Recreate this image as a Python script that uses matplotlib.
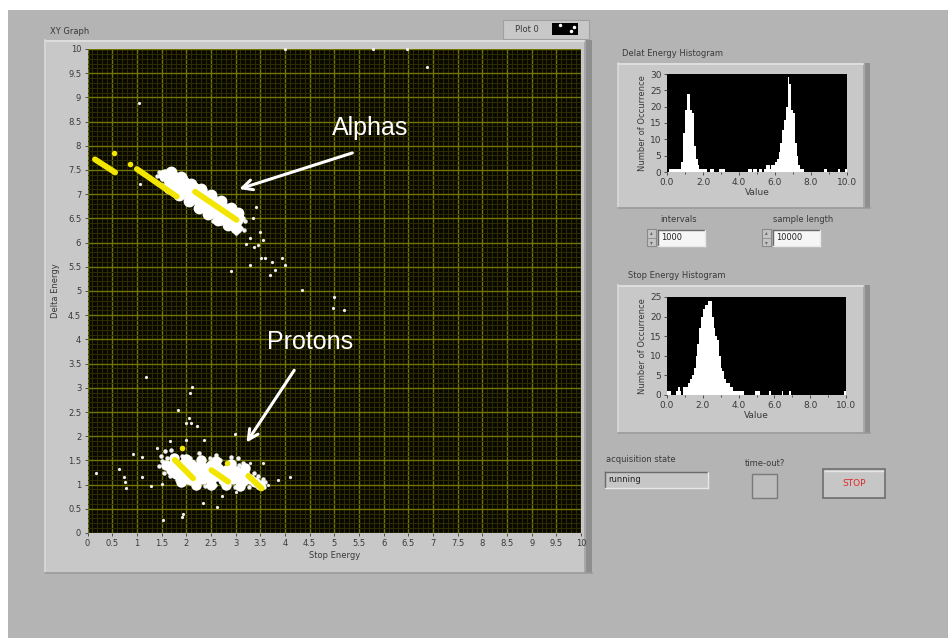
import matplotlib.pyplot as plt
from matplotlib.patches import Rectangle
from matplotlib.ticker import MultipleLocator

# --- XY graph data (Stop Energy, Delta Energy) ---
alpha_core_x = [1.55, 1.65, 1.65, 1.75, 1.75, 1.80, 1.85, 1.85, 1.90, 1.95, 1.95, 2.00, 2.00, 2.05, 2.05,
                2.10, 2.10, 2.15, 2.20, 2.20, 2.25, 2.30, 2.30, 2.35, 2.40, 2.40, 2.45, 2.50, 2.50, 2.55,
                2.60, 2.60, 2.65, 2.70, 2.70, 2.75, 2.80, 2.80, 2.85, 2.90, 2.95, 3.00, 3.05, 2.15,
                1.70, 1.90, 2.10, 2.30, 2.50, 2.70, 2.90, 3.05,
                1.65, 1.85, 2.05, 2.25, 2.45, 2.65, 2.85, 3.00]
alpha_core_y = [7.40, 7.38, 7.30, 7.35, 7.25, 7.15, 7.30, 7.20, 7.10, 7.25, 7.15, 7.05, 7.20, 7.10, 6.98,
                7.15, 7.02, 6.92, 7.08, 6.96, 6.86, 7.02, 6.90, 6.80, 6.95, 6.84, 6.74, 6.90, 6.78, 6.68,
                6.82, 6.72, 6.62, 6.76, 6.65, 6.56, 6.68, 6.58, 6.50, 6.60, 6.52, 6.45, 6.50, 7.12,
                7.45, 7.35, 7.22, 7.10, 6.98, 6.86, 6.72, 6.62,
                7.12, 6.98, 6.85, 6.72, 6.60, 6.47, 6.36, 6.30]

alpha_edge_x = [1.45, 1.50, 1.58, 1.62, 1.70, 1.72, 1.78, 1.82, 1.88, 1.92, 1.98, 2.02, 2.08, 2.12, 2.18,
                2.22, 2.28, 2.32, 2.38, 2.42, 2.48, 2.52, 2.58, 2.62, 2.68, 2.72, 2.78, 2.82, 2.88, 2.92,
                2.98, 3.02, 3.08, 3.10, 3.15, 3.12, 2.95, 2.85, 1.40, 1.52, 1.35, 3.20, 3.00, 3.18, 2.70,
                2.55]
alpha_edge_y = [7.45, 7.32, 7.48, 7.22, 7.45, 7.12, 7.42, 7.05, 7.38, 6.98, 7.35, 6.90, 7.28, 6.85, 7.22,
                6.78, 7.15, 6.72, 7.08, 6.65, 7.02, 6.58, 6.95, 6.52, 6.88, 6.48, 6.80, 6.42, 6.72, 6.40,
                6.65, 6.35, 6.58, 6.42, 6.50, 6.30, 6.28, 6.32, 7.38, 7.18, 7.28, 6.45, 6.20, 6.25, 6.40,
                6.45]

proton_core_x = [1.60, 1.70, 1.75, 1.80, 1.85, 1.90, 1.95, 1.95, 2.00, 2.05, 2.10, 2.10, 2.15, 2.20, 2.25,
                 2.30, 2.35, 2.40, 2.45, 2.50, 2.50, 2.55, 2.60, 2.65, 2.70, 2.75, 2.80, 2.85, 2.90, 2.95,
                 3.00, 3.05, 3.10, 3.15, 3.20, 3.30, 3.40, 3.50,
                 1.75, 2.00, 2.30, 2.60, 2.90, 3.20, 1.90, 2.20, 2.50, 2.80, 3.10]
proton_core_y = [1.40, 1.30, 1.45, 1.22, 1.38, 1.28, 1.45, 1.15, 1.35, 1.22, 1.42, 1.10, 1.30, 1.18, 1.38,
                 1.25, 1.12, 1.35, 1.22, 1.40, 1.10, 1.28, 1.18, 1.35, 1.22, 1.10, 1.30, 1.18, 1.25, 1.12,
                 1.28, 1.15, 1.22, 1.08, 1.20, 1.12, 1.05, 1.00,
                 1.55, 1.52, 1.50, 1.48, 1.42, 1.35, 1.05, 1.00, 1.00, 1.00, 0.98]

proton_edge_x = [1.50, 1.55, 1.62, 1.68, 1.78, 1.82, 1.92, 2.02, 2.08, 2.18, 2.28, 2.38, 2.48, 2.58, 2.68,
                 2.78, 2.88, 2.98, 3.08, 3.12, 3.22, 3.28, 3.38, 3.45, 3.55, 3.60, 3.58, 3.05, 3.15, 1.45,
                 1.48, 1.58, 1.70, 2.25, 2.60, 2.90]
proton_edge_y = [1.48, 1.25, 1.55, 1.18, 1.58, 1.10, 1.60, 1.05, 1.55, 1.02, 1.52, 0.98, 1.55, 1.00, 1.50,
                 0.98, 1.45, 0.95, 1.40, 0.92, 1.35, 0.95, 1.25, 1.18, 1.12, 1.05, 0.95, 1.55, 1.45, 1.38,
                 1.60, 1.70, 1.72, 1.65, 1.62, 1.58]

stray_x = [1.06, 3.42, 3.36, 3.49, 3.22, 3.29, 3.52, 3.60, 3.73, 3.94, 4.00, 3.80, 3.69, 3.38, 3.55,
           2.90, 4.34, 5.00, 4.97, 5.20, 1.04, 6.88, 4.00, 5.78, 6.47, 3.30, 3.45,
           1.18, 2.11, 2.07, 1.84, 2.06, 2.00, 2.10, 2.22, 2.99, 1.67, 2.36, 1.99, 0.17, 0.64,
           0.74, 0.76, 0.78, 0.93, 1.10, 1.10, 1.28, 1.51, 3.86, 4.11, 3.65, 2.34, 2.63, 2.72,
           1.91, 1.93, 1.53, 3.08, 3.01, 1.40, 3.30, 3.55]
stray_y = [7.22, 6.74, 6.50, 6.22, 5.98, 5.54, 5.68, 5.68, 5.60, 5.68, 5.54, 5.43, 5.33, 5.90, 6.05,
           5.41, 5.02, 4.88, 4.65, 4.60, 8.88, 9.62, 10.0, 10.0, 10.0, 6.10, 5.95,
           3.22, 3.02, 2.90, 2.54, 2.37, 2.27, 2.27, 2.21, 2.05, 1.91, 1.92, 1.92, 1.25, 1.32,
           1.15, 1.06, 0.92, 1.63, 1.56, 1.16, 0.97, 1.02, 1.09, 1.15, 1.00, 0.61, 0.54, 0.77,
           0.34, 0.39, 0.27, 0.94, 0.84, 1.75, 1.45, 1.45]

# yellow plot: short straight runs (start x, end x, start y, end y) and single points
yellow_runs = [
    (0.15, 0.56, 7.72, 7.45),
    (1.00, 1.81, 7.52, 6.95),
    (2.18, 3.02, 7.05, 6.47),
    (1.77, 2.14, 1.51, 1.13),
    (2.51, 2.85, 1.30, 1.06),
    (3.26, 3.53, 1.18, 0.92),
]
yellow_dot_x = [0.54, 0.86, 1.91, 2.82]
yellow_dot_y = [7.85, 7.62, 1.75, 1.45]

xy_ticks = [i * 0.5 for i in range(21)]
xy_tick_labels = ['0', '0.5', '1', '1.5', '2', '2.5', '3', '3.5', '4', '4.5', '5',
                  '5.5', '6', '6.5', '7', '7.5', '8', '8.5', '9', '9.5', '10']

# --- histograms, bins of 0.1 from 0 to 10 ---
bin_left = [i / 10 for i in range(100)]
delta_counts = [
    0, 1, 1, 1, 1, 1, 1, 1, 3, 12,
    19, 24, 24, 19, 18, 8, 4, 2, 1, 1,
    1, 1, 0, 0, 1, 1, 0, 0, 0, 1,
    1, 1, 0, 0, 0, 0, 0, 0, 0, 0,
    0, 0, 0, 0, 0, 1, 1, 0, 1, 1,
    0, 1, 1, 0, 1, 2, 2, 1, 2, 2,
    3, 4, 6, 9, 13, 16, 20, 29, 27, 19,
    18, 9, 5, 2, 1, 1, 0, 0, 0, 0,
    0, 0, 0, 0, 0, 0, 0, 1, 1, 0,
    0, 0, 0, 0, 0, 1, 0, 0, 0, 1,
]
stop_counts = [
    1, 1, 0, 0, 0, 1, 2, 1, 0, 2,
    2, 2, 3, 4, 5, 7, 10, 13, 17, 20,
    22, 23, 23, 24, 24, 20, 17, 15, 14, 10,
    7, 6, 4, 3, 3, 2, 2, 1, 1, 1,
    1, 1, 1, 0, 0, 0, 0, 0, 0, 1,
    1, 1, 0, 0, 0, 0, 0, 1, 0, 0,
    0, 0, 0, 0, 1, 0, 0, 0, 1, 0,
    0, 0, 0, 0, 0, 0, 0, 0, 0, 0,
    0, 0, 0, 0, 0, 0, 0, 0, 0, 0,
    0, 0, 0, 0, 0, 0, 0, 0, 0, 1,
]
hist_x_ticks = [0, 2, 4, 6, 8, 10]
hist_x_labels = ['0.0', '2.0', '4.0', '6.0', '8.0', '10.0']

W, H = 948, 638
PANEL = '#b4b4b4'
FACE = '#c8c8c8'
TXT = '#3a3a3a'


def rect(x0, y0, x1, y1):
    """Pixel box (top-left origin) -> figure fraction rect."""
    return [x0 / W, 1 - y1 / H, (x1 - x0) / W, (y1 - y0) / H]


def bevel(bg, x0, y0, x1, y1, edge=7):
    # raised LabVIEW style frame with dark right edge
    bg.add_patch(Rectangle((x0, y0), x1 - x0, y1 - y0, fc=FACE, ec='none'))
    bg.add_patch(Rectangle((x1 - edge, y0), edge, y1 - y0, fc='#8e8e8e', ec='none'))
    bg.add_patch(Rectangle((x1 - edge, y0), 2, y1 - y0, fc='#a8a8a8', ec='none'))
    bg.plot([x0, x1 - edge], [y0 + 0.5, y0 + 0.5], color='#e2e2e2', lw=1.2)
    bg.plot([x0 + 0.5, x0 + 0.5], [y0, y1], color='#dadada', lw=1.2)
    bg.plot([x0, x1], [y1 - 0.5, y1 - 0.5], color='#9a9a9a', lw=1.2)


def inset_box(bg, x0, y0, x1, y1, fc, text=None, color='#222222'):
    bg.add_patch(Rectangle((x0, y0), x1 - x0, y1 - y0, fc=fc, ec='none'))
    bg.plot([x0, x1], [y0, y0], color='#6a6a6a', lw=1)
    bg.plot([x0, x0], [y0, y1], color='#6a6a6a', lw=1)
    bg.plot([x0, x1], [y1, y1], color='#e8e8e8', lw=1)
    bg.plot([x1, x1], [y0, y1], color='#e8e8e8', lw=1)
    if text:
        bg.text(x0 + 3, (y0 + y1) / 2, text, fontsize=6, color=color, va='center', ha='left')


def spinner(bg, x0, y0, x1, y1):
    bg.add_patch(Rectangle((x0, y0), x1 - x0, y1 - y0, fc='#c4c4c4', ec='#8a8a8a', lw=0.8))
    ym = (y0 + y1) / 2
    bg.plot([x0 + 1, x1 - 1], [ym, ym], color='#8a8a8a', lw=0.6)
    bg.text((x0 + x1) / 2, y0 + 3.5, '\u25b4', fontsize=4, color='#666666', ha='center', va='center')
    bg.text((x0 + x1) / 2, y1 - 3.5, '\u25be', fontsize=4, color='#666666', ha='center', va='center')


def style_hist(ax, counts, ymax, ystep):
    ax.set_facecolor('black')
    ax.bar(bin_left, counts, width=0.1, align='edge', color='white', linewidth=0)
    ax.set_xlim(0, 10)
    ax.set_ylim(0, ymax)
    ax.set_xticks(hist_x_ticks)
    ax.set_xticklabels(hist_x_labels)
    ax.xaxis.set_minor_locator(MultipleLocator(1))
    ax.yaxis.set_major_locator(MultipleLocator(ystep))
    ax.tick_params(labelsize=6.5, colors=TXT, length=2, width=0.6, pad=2)
    ax.tick_params(which='minor', length=1.5, width=0.6, colors=TXT)
    for s in ax.spines.values():
        s.set_visible(False)
    ax.set_xlabel('Value', fontsize=6.5, color=TXT, labelpad=1)
    ax.set_ylabel('Number of Occurrence', fontsize=6, color=TXT, labelpad=2)


def main():
    fig = plt.figure(figsize=(W / 100, H / 100), dpi=100, facecolor='white')

    # background canvas in pixel coordinates
    bg = fig.add_axes([0, 0, 1, 1])
    bg.set_xlim(0, W)
    bg.set_ylim(H, 0)
    bg.axis('off')
    bg.add_patch(Rectangle((8, 10), W - 8, H - 10, fc=PANEL, ec='none'))

    # XY graph frame, title and plot legend
    bevel(bg, 45, 40, 592, 573, edge=8)
    bg.text(50, 32, 'XY Graph', fontsize=6, color=TXT, va='center')
    bg.add_patch(Rectangle((503, 20), 86, 19, fc=FACE, ec='#a0a0a0', lw=0.8))
    bg.text(515, 29.5, 'Plot 0', fontsize=6, color=TXT, va='center')
    bg.add_patch(Rectangle((552, 23), 26, 12, fc='black', ec='none'))
    bg.plot([560, 571, 574], [25, 31, 27], 'o', color='white', ms=1.5)

    # histogram frames
    bevel(bg, 618, 63, 870, 208)
    bg.text(622, 54, 'Delat Energy Histogram', fontsize=6, color=TXT, va='center')
    bevel(bg, 618, 285, 870, 433)
    bg.text(628, 276, 'Stop Energy Histogram', fontsize=6, color=TXT, va='center')

    # controls
    bg.text(679, 219, 'intervals', fontsize=6, color=TXT, ha='center', va='center')
    spinner(bg, 647, 229, 656, 246)
    inset_box(bg, 658, 230, 705, 246, '#f6f6f6', '1000')
    bg.text(803, 219, 'sample length', fontsize=6, color=TXT, ha='center', va='center')
    spinner(bg, 762, 229, 771, 246)
    inset_box(bg, 773, 230, 820, 246, '#f6f6f6', '10000')

    bg.text(606, 460, 'acquisition state', fontsize=6, color=TXT, va='center')
    inset_box(bg, 605, 472, 708, 488, '#c6c6c6', 'running')
    bg.text(765, 464, 'time-out?', fontsize=6, color=TXT, ha='center', va='center')
    bg.add_patch(Rectangle((752, 474), 25, 24, fc='#bdbdbd', ec='#7a7a7a', lw=1))
    bg.add_patch(Rectangle((823, 469), 62, 29, fc='#c6c6c6', ec='#6e6e6e', lw=1.2))
    bg.plot([825, 883], [471, 471], color='#e6e6e6', lw=1)
    bg.text(854, 484, 'STOP', fontsize=6.5, color='#e02828', ha='center', va='center')

    # main XY graph
    ax = fig.add_axes(rect(87.5, 49, 581, 533))
    ax.set_facecolor('#080800')
    ax.set_xlim(0, 10)
    ax.set_ylim(0, 10)
    ax.set_xticks(xy_ticks)
    ax.set_xticklabels(xy_tick_labels)
    ax.set_yticks(xy_ticks)
    ax.set_yticklabels(xy_tick_labels)
    ax.xaxis.set_minor_locator(MultipleLocator(0.1))
    ax.yaxis.set_minor_locator(MultipleLocator(0.1))
    ax.grid(which='minor', color='#2c2c00', lw=0.8)
    ax.grid(which='major', color='#747400', lw=1.0)
    ax.set_axisbelow(True)
    ax.tick_params(labelsize=6, colors=TXT, length=2.5, width=0.6, pad=2)
    ax.tick_params(which='minor', length=0)
    for s in ax.spines.values():
        s.set_visible(False)
    ax.set_xlabel('Stop Energy', fontsize=6, color=TXT, labelpad=2)
    ax.set_ylabel('Delta Energy', fontsize=6, color=TXT, labelpad=6)

    # white data points
    ax.plot(stray_x, stray_y, 'o', color='#eeeeee', ms=2.3, mec='none', clip_on=False, zorder=3)
    ax.plot(alpha_edge_x, alpha_edge_y, 'o', color='#f2f2f2', ms=3.2, mec='none', zorder=3)
    ax.plot(proton_edge_x, proton_edge_y, 'o', color='#f2f2f2', ms=3.2, mec='none', zorder=3)
    ax.plot(alpha_core_x, alpha_core_y, 'o', color='white', ms=8.5, mec='none', zorder=3)
    ax.plot(proton_core_x, proton_core_y, 'o', color='white', ms=7.5, mec='none', zorder=3)

    # yellow plot on top
    for x0, x1, y0, y1 in yellow_runs:
        ax.plot([x0, x1], [y0, y1], color='#f2e600', lw=4.2, solid_capstyle='round', zorder=4)
    ax.plot(yellow_dot_x, yellow_dot_y, 'o', color='#f2e600', ms=4, mec='none', zorder=4)

    # annotations
    ax.text(5.72, 8.37, 'Alphas', fontsize=18, color='white', family='Liberation Sans',
            ha='center', va='center', zorder=5)
    ax.annotate('', xy=(3.02, 7.09), xytext=(5.42, 7.87),
                arrowprops=dict(arrowstyle='->', color='white', lw=2.2, mutation_scale=18), zorder=5)
    ax.text(4.50, 3.95, 'Protons', fontsize=18, color='white', family='Liberation Sans',
            ha='center', va='center', zorder=5)
    ax.annotate('', xy=(3.19, 1.82), xytext=(4.22, 3.41),
                arrowprops=dict(arrowstyle='->', color='white', lw=2.2, mutation_scale=18), zorder=5)

    # histograms
    h1 = fig.add_axes(rect(667, 74, 847, 172))
    style_hist(h1, delta_counts, 30, 5)
    h2 = fig.add_axes(rect(667, 297, 846, 395))
    style_hist(h2, stop_counts, 25, 5)

    fig.savefig('out.png', dpi=100, facecolor=fig.get_facecolor())


if __name__ == "__main__":
    main()
